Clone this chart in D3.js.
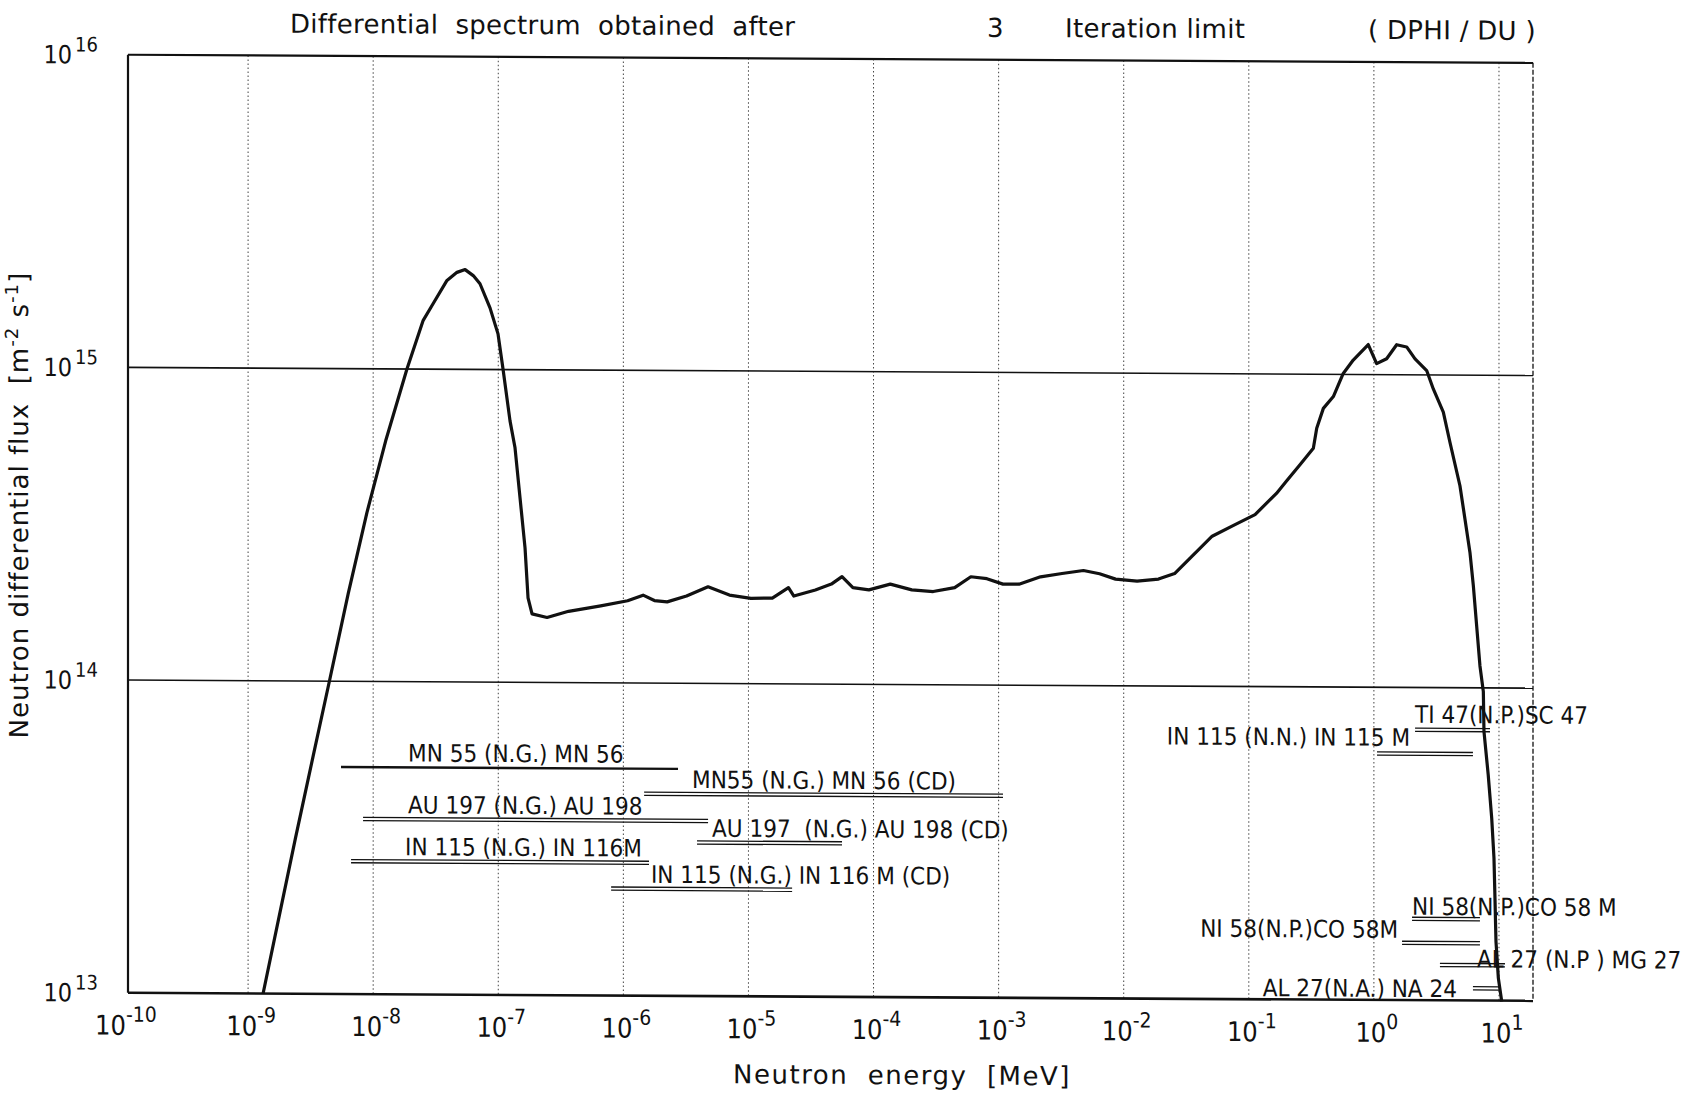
<!DOCTYPE html>
<html>
<head>
<meta charset="utf-8">
<script src="https://cdn.jsdelivr.net/npm/d3@7"></script>
<style>
  body { margin: 0; background: #fff; }
  svg { display: block; font-family: "DejaVu Sans Condensed", "DejaVu Sans", sans-serif; }
  text { white-space: pre; fill: #111; }
  .wide { font-family: "DejaVu Sans", sans-serif; }
</style>
</head>
<body>
<svg id="chart" width="1682" height="1094"></svg>
<script>
// spectrum, log10 of energy [MeV] and log10 of flux
const logEnergy = [-8.88, -8.75, -8.62, -8.48, -8.35, -8.20, -8.05, -7.90, -7.73, -7.60,
    -7.52, -7.41, -7.33, -7.265, -7.20, -7.146, -7.066, -7.002, -6.962, -6.906,
    -6.866, -6.826, -6.786, -6.762, -6.730, -6.610, -6.438, -6.181, -5.966, -5.842,
    -5.752, -5.650, -5.495, -5.323, -5.152, -4.980, -4.809, -4.680, -4.637, -4.465,
    -4.337, -4.252, -4.165, -4.037, -3.866, -3.694, -3.523, -3.351, -3.222, -3.094,
    -2.965, -2.837, -2.665, -2.493, -2.322, -2.193, -2.065, -1.893, -1.722, -1.593,
    -1.465, -1.293, -1.122, -0.950, -0.779, -0.700, -0.591, -0.484, -0.457, -0.404,
    -0.324, -0.245, -0.165, -0.045, 0.022, 0.102, 0.182, 0.262, 0.329, 0.422,
    0.475, 0.555, 0.608, 0.688, 0.728, 0.768, 0.795, 0.848, 0.875, 0.880,
    0.914, 0.942, 0.960, 0.968, 0.976, 0.995, 1.022];
const logFlux = [13.00, 13.25, 13.50, 13.76, 14.00, 14.28, 14.54, 14.77, 15.00, 15.156,
    15.21, 15.284, 15.31, 15.319, 15.30, 15.274, 15.197, 15.114, 15.002, 14.836,
    14.750, 14.590, 14.430, 14.270, 14.219, 14.208, 14.228, 14.246, 14.263, 14.281,
    14.264, 14.260, 14.279, 14.309, 14.283, 14.273, 14.274, 14.308, 14.281, 14.301,
    14.320, 14.344, 14.309, 14.302, 14.321, 14.303, 14.298, 14.311, 14.346, 14.340,
    14.323, 14.323, 14.347, 14.358, 14.368, 14.358, 14.341, 14.335, 14.342, 14.360,
    14.411, 14.480, 14.515, 14.550, 14.618, 14.657, 14.710, 14.763, 14.827, 14.891,
    14.929, 15.003, 15.046, 15.096, 15.035, 15.051, 15.096, 15.089, 15.051, 15.014,
    14.955, 14.881, 14.785, 14.646, 14.540, 14.433, 14.327, 14.070, 13.988, 13.861,
    13.722, 13.583, 13.456, 13.327, 13.189, 13.072, 12.997];

const xExponents = d3.range(-10, 2);
const yExponents = [13, 14, 15, 16];
const yGridExponents = [14, 15];

// activation foils: energy range (log10 MeV) and the flux level the bar sits at
const reactionLabels = ["MN 55 (N.G.) MN 56", "MN55 (N.G.) MN 56 (CD)", "AU 197 (N.G.) AU 198",
    "AU 197  (N.G.) AU 198 (CD)", "IN 115 (N.G.) IN 116M", "IN 115 (N.G.) IN 116 M (CD)",
    "TI 47(N.P.)SC 47", "IN 115 (N.N.) IN 115 M", "NI 58(N.P.)CO 58 M", "NI 58(N.P.)CO 58M",
    "AL 27 (N.P ) MG 27", "AL 27(N.A.) NA 24"];
const rangeLow = [-8.257, -5.834, -8.081, -5.411, -8.177, -6.098, 0.329, 0.025, 0.305, 0.225, 0.528, 0.792];
const rangeHigh = [-5.563, -2.965, -5.323, -4.252, -5.795, -4.651, 0.928, 0.792, 0.848, 0.848, 1.048, 1.008];
const rangeLevel = [13.726, 13.646, 13.560, 13.491, 13.425, 13.342, 13.865, 13.788, 13.260, 13.183, 13.113, 13.039];
const labelEnergy = [-7.721, -5.451, -7.721, -5.291, -7.745, -5.779, 0.329, 0.289, 0.305, 0.193, 0.824, 0.664];
const labelLevel = [13.745, 13.665, 13.579, 13.510, 13.445, 13.361, 13.887, 13.813, 13.273, 13.199, 13.106, 13.01];
const labelAtEnd = [false, false, false, false, false, false, false, true, false, true, false, true];

let svg = d3.select("#chart");

// the scanned sheet drifts down a few pixels to the right
let g = svg.append("g").attr("transform", "skewY(0.33)");

let x = d3.scaleLog()
    .domain([Math.pow(10, -9.96), Math.pow(10, 1.272)])
    .range([128, 1533]);

let y = d3.scaleLog()
    .domain([1e13, 1e16])
    .range([992, 54]);

let x0 = x.range()[0], x1 = x.range()[1];
let yTop = y(1e16), yBottom = y(1e13);

// vertical decade lines, dotted
g.append("g")
    .selectAll("line")
    .data(xExponents.filter(e => e > -10))
    .enter().append("line")
    .attr("x1", d => x(Math.pow(10, d)))
    .attr("x2", d => x(Math.pow(10, d)))
    .attr("y1", yTop)
    .attr("y2", yBottom)
    .attr("stroke", "#444")
    .attr("stroke-width", 1)
    .attr("stroke-dasharray", "1.5,2.5");

// horizontal decade lines
g.append("g")
    .selectAll("line")
    .data(yGridExponents)
    .enter().append("line")
    .attr("x1", x0)
    .attr("x2", x1)
    .attr("y1", d => y(Math.pow(10, d)))
    .attr("y2", d => y(Math.pow(10, d)))
    .attr("stroke", "#111")
    .attr("stroke-width", 1.6);

// frame
let frame = g.append("g").attr("stroke", "#111").attr("fill", "none");
frame.append("line").attr("x1", x0).attr("x2", x1).attr("y1", yTop).attr("y2", yTop).attr("stroke-width", 2.2);
frame.append("line").attr("x1", x0).attr("x2", x1).attr("y1", yBottom).attr("y2", yBottom).attr("stroke-width", 2.6);
frame.append("line").attr("x1", x0).attr("x2", x0).attr("y1", yTop).attr("y2", yBottom).attr("stroke-width", 2.2);
frame.append("line").attr("x1", x1).attr("x2", x1).attr("y1", yTop).attr("y2", yBottom)
    .attr("stroke-width", 1.3).attr("stroke-dasharray", "5,2");

// x tick labels
let xt = g.append("g")
    .selectAll("text")
    .data(xExponents)
    .enter().append("text")
    .attr("x", d => x(Math.pow(10, d)) + 3)
    .attr("y", 1034)
    .attr("text-anchor", "middle")
    .attr("font-size", 27);
xt.append("tspan").text("10");
xt.append("tspan").attr("font-size", 21).attr("dy", -13).text(d => d < 0 ? "-" + (-d) : "" + d);

// y tick labels
let yt = g.append("g")
    .selectAll("text")
    .data(yExponents)
    .enter().append("text")
    .attr("x", 98)
    .attr("y", d => y(Math.pow(10, d)) + 9)
    .attr("text-anchor", "end")
    .attr("font-size", 25);
yt.append("tspan").text("10");
yt.append("tspan").attr("font-size", 20).attr("dx", 3).attr("dy", -12).text(d => d);

// spectrum
let line = d3.line()
    .x((d, i) => x(Math.pow(10, logEnergy[i])))
    .y((d, i) => y(Math.pow(10, logFlux[i])));

g.append("path")
    .datum(logEnergy)
    .attr("fill", "none")
    .attr("stroke", "#111")
    .attr("stroke-width", 3.2)
    .attr("stroke-linejoin", "round")
    .attr("d", line);

// foil response ranges
let foils = g.append("g");
reactionLabels.forEach(function (label, i) {
    let xa = x(Math.pow(10, rangeLow[i]));
    let xb = x(Math.pow(10, rangeHigh[i]));
    let yl = y(Math.pow(10, rangeLevel[i]));
    if (i == 0) {
        foils.append("line")
            .attr("x1", xa).attr("x2", xb).attr("y1", yl).attr("y2", yl)
            .attr("stroke", "#111").attr("stroke-width", 2.4);
    } else {
        [-1.6, 1.6].forEach(function (off) {
            foils.append("line")
                .attr("x1", xa).attr("x2", xb).attr("y1", yl + off).attr("y2", yl + off)
                .attr("stroke", "#111").attr("stroke-width", 1.3);
        });
    }
    foils.append("text")
        .attr("x", x(Math.pow(10, labelEnergy[i])))
        .attr("y", y(Math.pow(10, labelLevel[i])))
        .attr("text-anchor", labelAtEnd[i] ? "end" : "start")
        .attr("font-size", 24)
        .text(label);
});

// titles
let title = g.append("g").attr("class", "wide").attr("font-size", 26).attr("letter-spacing", 0.3);
title.append("text").attr("x", 290).attr("y", 31).text("Differential  spectrum  obtained  after");
title.append("text").attr("x", 987).attr("y", 31).text("3");
title.append("text").attr("x", 1065).attr("y", 31).text("Iteration limit");
title.append("text").attr("x", 1368).attr("y", 31).text("( DPHI / DU )");

g.append("text")
    .attr("class", "wide")
    .attr("x", 902)
    .attr("y", 1079)
    .attr("text-anchor", "middle")
    .attr("font-size", 26)
    .attr("letter-spacing", 1.5)
    .text("Neutron  energy  [MeV]");

let ylab = g.append("text")
    .attr("class", "wide")
    .attr("transform", "translate(28,505) rotate(-90)")
    .attr("text-anchor", "middle")
    .attr("font-size", 26)
    .attr("letter-spacing", 1);
ylab.append("tspan").text("Neutron differential flux  [m");
ylab.append("tspan").attr("font-size", 18).attr("dy", -10).text("-2");
ylab.append("tspan").attr("dy", 10).text(" s");
ylab.append("tspan").attr("font-size", 18).attr("dy", -10).text("-1");
ylab.append("tspan").attr("dy", 10).text("]");
</script>
</body>
</html>
